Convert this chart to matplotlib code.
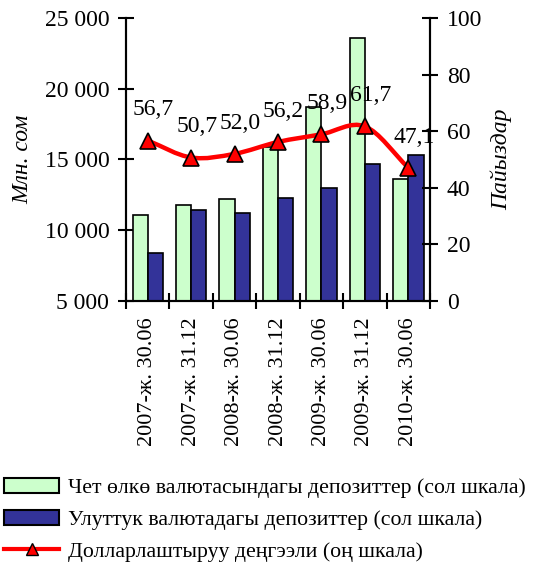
import matplotlib.pyplot as plt
from matplotlib.path import Path
from matplotlib.patches import PathPatch
from matplotlib.lines import Line2D
from matplotlib.patches import Patch
from matplotlib.ticker import FuncFormatter
import numpy as np

################################################################################
# Data
################################################################################

categories = ['2007-ж. 30.06', '2007-ж. 31.12', '2008-ж. 30.06', '2008-ж. 31.12',
              '2009-ж. 30.06', '2009-ж. 31.12', '2010-ж. 30.06']
foreign_dep = [11100, 11800, 12200, 15900, 18700, 23600, 13600]
national_dep = [8400, 11400, 11200, 12300, 13000, 14700, 15300]
dollarization = [56.7, 50.7, 52.0, 56.2, 58.9, 61.7, 47.1]

label_foreign = 'Чет өлкө валютасындагы депозиттер (сол шкала)'
label_national = 'Улуттук валютадагы депозиттер (сол шкала)'
label_dollar = 'Долларлаштыруу деңгээли (оң шкала)'

################################################################################
# Style
################################################################################

plt.rcParams['font.family'] = ['Liberation Serif', 'DejaVu Serif']
plt.rc('font', size=16)
plt.rc('xtick', labelsize=16)
plt.rc('ytick', labelsize=17)

green = '#CCFFCC'
blue = '#333399'
red = '#FF0000'

fig = plt.figure(figsize=(5.33, 5.66), dpi=100)
ax = fig.add_axes([0.2364, 0.4682, 0.5704, 0.5])
ax2 = ax.twinx()

################################################################################
# Bars (left scale)
################################################################################

x = np.arange(len(categories))
w = 0.35
ax.bar(x - w / 2, foreign_dep, w, color=green, edgecolor='black', linewidth=1.2, zorder=2)
ax.bar(x + w / 2, national_dep, w, color=blue, edgecolor='black', linewidth=1.2, zorder=2)

ax.set_xlim(-0.5, len(categories) - 0.5)
ax.set_ylim(5000, 25000)
ax.set_yticks(np.arange(5000, 25001, 5000))
ax.yaxis.set_major_formatter(FuncFormatter(lambda v, p: '{:,.0f}'.format(v).replace(',', ' ')))
ax.set_ylabel('Млн. сом', style='italic', fontsize=17, labelpad=8)

ax.set_xticks(x)
ax.set_xticklabels(categories, rotation=90)
ax.tick_params(axis='x', which='major', length=0, pad=12)
ax.set_xticks(np.arange(-0.5, len(categories)), minor=True)
ax.tick_params(axis='x', which='minor', direction='inout', length=12, width=1.5)
ax.tick_params(axis='y', direction='inout', length=12, width=1.5, pad=6)

################################################################################
# Smoothed line (right scale)
################################################################################

y = np.array(dollarization)
verts = [(x[0], y[0])]
codes = [Path.MOVETO]
n = len(y)
for i in range(n - 1):
    d0 = (y[i + 1] - y[i - 1]) / 2 if i > 0 else (y[i + 1] - y[i])
    d1 = (y[i + 2] - y[i]) / 2 if i + 2 < n else (y[i + 1] - y[i])
    verts += [(x[i] + 1 / 3, y[i] + d0 / 3),
              (x[i + 1] - 1 / 3, y[i + 1] - d1 / 3),
              (x[i + 1], y[i + 1])]
    codes += [Path.CURVE4] * 3
ax2.add_patch(PathPatch(Path(verts, codes), facecolor='none', edgecolor=red,
                        linewidth=3.2, zorder=3))
ax2.plot(x, y, linestyle='none', marker='^', markersize=11, markerfacecolor=red,
         markeredgecolor='black', markeredgewidth=1.2, zorder=4)

for xi, yi in zip(x, y):
    ax2.annotate('{:.1f}'.format(yi).replace('.', ','), (xi, yi),
                 xytext=(4, 22), textcoords='offset points',
                 ha='center', va='center', fontsize=17)

ax2.set_ylim(0, 100)
ax2.set_yticks(np.arange(0, 101, 20))
ax2.tick_params(axis='y', direction='inout', length=12, width=1.5, pad=6)
ax2.set_ylabel('Пайыздар', style='italic', fontsize=17, rotation=90, labelpad=6)

for a in (ax, ax2):
    a.spines['top'].set_visible(False)
    for s in ('left', 'right', 'bottom'):
        a.spines[s].set_linewidth(1.5)

################################################################################
# Legend
################################################################################

handles = [Patch(facecolor=green, edgecolor='black', linewidth=1.5),
           Patch(facecolor=blue, edgecolor='black', linewidth=1.5),
           Line2D([], [], color=red, linewidth=3, marker='^', markersize=9,
                  markerfacecolor=red, markeredgecolor='black')]
fig.legend(handles, [label_foreign, label_national, label_dollar],
           loc='upper left', bbox_to_anchor=(0.0, 0.163), frameon=False,
           fontsize=15.7, handlelength=2.5, handletextpad=0.4, labelspacing=0.52,
           borderaxespad=0, borderpad=0.2)

plt.savefig('out.png', dpi=100)
